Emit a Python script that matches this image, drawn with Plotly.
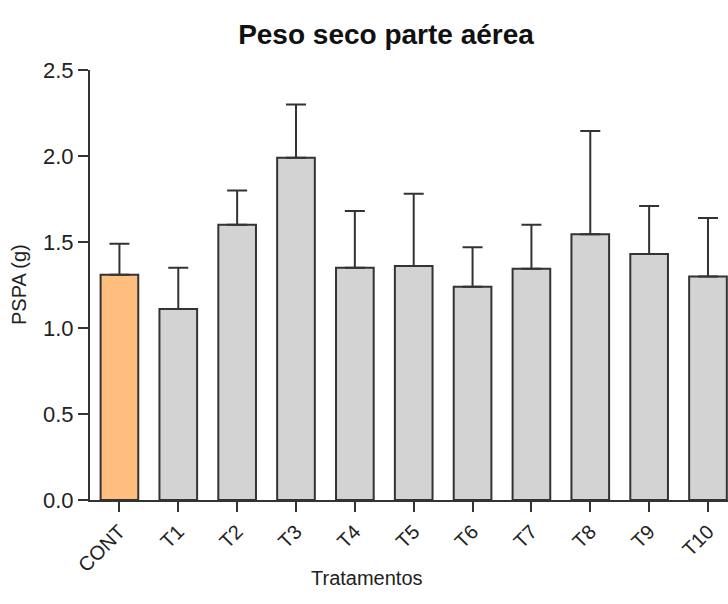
import plotly.graph_objects as go

categories = ["CONT", "T1", "T2", "T3", "T4", "T5", "T6", "T7", "T8", "T9", "T10"]
means = [1.31, 1.11, 1.60, 1.99, 1.35, 1.36, 1.24, 1.345, 1.545, 1.43, 1.30]
sd = [0.18, 0.24, 0.20, 0.31, 0.33, 0.42, 0.23, 0.255, 0.60, 0.28, 0.34]
bar_colors = ["#FFBE7D"] + ["#D3D3D3"] * 10
yticks = [0.0, 0.5, 1.0, 1.5, 2.0, 2.5]

FONT = "Arial, Liberation Sans, sans-serif"
x_idx = list(range(len(categories)))

fig = go.Figure()
fig.add_trace(go.Bar(
    x=x_idx, y=means, width=0.64,
    marker=dict(color=bar_colors, line=dict(color="#333333", width=2)),
    error_y=dict(type="data", symmetric=False, array=sd, arrayminus=[0] * len(sd),
                 color="#333333", thickness=2, width=10),
    showlegend=False,
))

fig.update_layout(
    width=728, height=604,
    margin=dict(l=90, r=0, t=70, b=104),
    plot_bgcolor="white", paper_bgcolor="white",
    font=dict(family=FONT, color="#111111"),
    title=dict(text="<b>Peso seco parte aérea</b>", x=386 / 728, xanchor="center",
               y=1 - 34 / 604, yanchor="middle", font=dict(size=28, family=FONT, color="#111111")),
)
fig.update_xaxes(
    range=[-0.5, 10.34], tickmode="array", tickvals=x_idx, ticktext=categories,
    tickangle=-45, ticks="outside", ticklen=10, tickwidth=2, tickcolor="#333333",
    showline=True, linecolor="#333333", linewidth=2, showgrid=False, zeroline=False,
    tickfont=dict(size=20, family=FONT, color="#222222"),
)
fig.update_yaxes(
    range=[0, 2.5], tickmode="array", tickvals=yticks, ticktext=[f"{v:.1f}" for v in yticks],
    ticks="outside", ticklen=10, tickwidth=2, tickcolor="#333333",
    showline=True, linecolor="#333333", linewidth=2, showgrid=False, zeroline=False,
    tickfont=dict(size=22, family=FONT, color="#222222"),
)
fig.add_annotation(text="PSPA (g)", xref="paper", yref="paper",
                   x=(19 - 90) / 638, y=0.5, xanchor="center", yanchor="middle", textangle=-90,
                   showarrow=False, font=dict(size=20, family=FONT, color="#222222"))
fig.add_annotation(text="Tratamentos", xref="paper", yref="paper",
                   x=(367 - 90) / 638, y=-(578 - 500) / 430, xanchor="center", yanchor="middle",
                   showarrow=False, font=dict(size=20, family=FONT, color="#222222"))

fig.write_html("out.html")
